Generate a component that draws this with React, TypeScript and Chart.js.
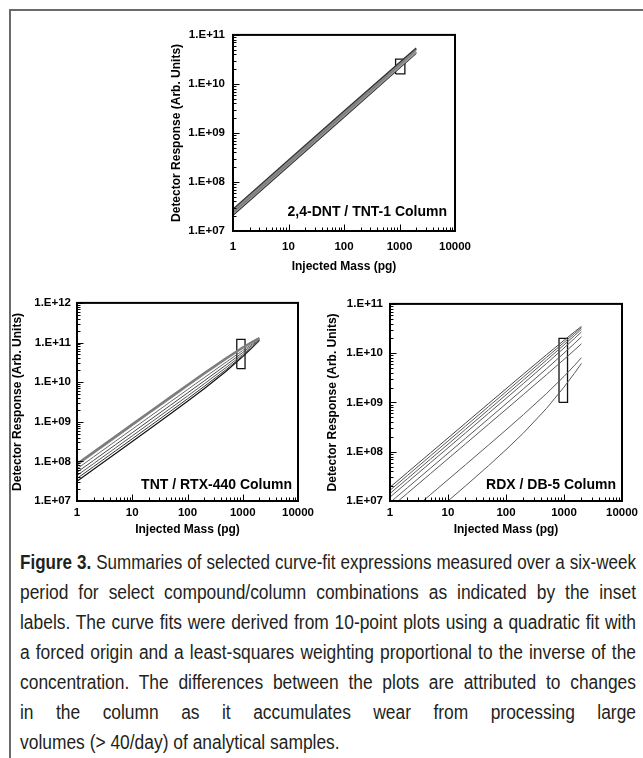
import { useEffect, useRef } from 'react';
import { Chart, registerables } from 'chart.js';

Chart.register(...registerables);

// ---------- shared axis data ----------
const massTickValues = [1, 10, 100, 1000, 10000];
const massTickLabels = ['1', '10', '100', '1000', '10000'];
const massTitle = 'Injected Mass (pg)';
const responseTitle = 'Detector Response (Arb. Units)';

// ---------- 2,4-DNT / TNT-1 ----------
const dntMass = [1, 10, 100, 1000, 2000];
const dntCurve1 = [2.8e7, 2.8e8, 2.795e9, 2.75e10, 5.4e10];
const dntCurve2 = [2.6e7, 2.6e8, 2.6e9, 2.6e10, 5.2e10];
const dntCurve3 = [2.45e7, 2.45e8, 2.453e9, 2.48e10, 5.02e10];
const dntCurve4 = [2.3e7, 2.3e8, 2.297e9, 2.27e10, 4.48e10];
const dntCurve5 = [2.2e7, 2.2e8, 2.202e9, 2.22e10, 4.48e10];
const dntCurve6 = [2.1e7, 2.1e8, 2.1e9, 2.1e10, 4.2e10];
const dntTickValues = [1e7, 1e8, 1e9, 1e10, 1e11];
const dntTickLabels = ['1.E+07', '1.E+08', '1.E+09', '1.E+10', '1.E+11'];
const dntBoxMass = [850, 1250];
const dntBoxResponse = [1.6e10, 3.2e10];
const dntLabel = '2,4-DNT / TNT-1 Column';

// ---------- TNT / RTX-440 ----------
const tntMass = [1, 2, 5, 10, 20, 50, 100, 200, 500, 1000, 1500, 2000];
const tntCurve1 = [8.7e7, 1.74e8, 4.35e8, 8.69e8, 1.736e9, 4.32e9, 8.59e9, 1.696e10, 4.075e10, 7.6e10, 1.0575e11, 1.3e11];
const tntCurve2 = [8.2e7, 1.64e8, 4.1e8, 8.19e8, 1.636e9, 4.08e9, 8.11e9, 1.604e10, 3.875e10, 7.3e10, 1.0275e11, 1.28e11];
const tntCurve3 = [6.5e7, 1.3e8, 3.25e8, 6.5e8, 1.3e9, 3.245e9, 6.48e9, 1.292e10, 3.2e10, 6.3e10, 9.3e10, 1.22e11];
const tntCurve4 = [5.3e7, 1.06e8, 2.65e8, 5.3e8, 1.061e9, 2.657e9, 5.33e9, 1.072e10, 2.725e10, 5.6e10, 8.625e10, 1.18e11];
const tntCurve5 = [4.4e7, 8.8e7, 2.2e8, 4.41e8, 8.82e8, 2.215e9, 4.46e9, 9.04e9, 2.35e10, 5.0e10, 7.95e10, 1.12e11];
const tntCurve6 = [3.7e7, 7.4e7, 1.85e8, 3.71e8, 7.44e8, 1.873e9, 3.79e9, 7.76e9, 2.075e10, 4.6e10, 7.575e10, 1.1e11];
const tntCurve7 = [3.16e7, 6.32e7, 1.58e8, 3.17e8, 6.37e8, 1.611e9, 3.28e9, 6.82e9, 1.89e10, 4.4e10, 7.53e10, 1.13e11];
const tntTickValues = [1e7, 1e8, 1e9, 1e10, 1e11, 1e12];
const tntTickLabels = ['1.E+07', '1.E+08', '1.E+09', '1.E+10', '1.E+11', '1.E+12'];
const tntBoxMass = [780, 1100];
const tntBoxResponse = [2.2e10, 1.2e11];
const tntLabel = 'TNT / RTX-440 Column';

// ---------- RDX / DB-5 ----------
const rdxMass = [1, 2, 5, 10, 20, 50, 100, 200, 500, 1000, 1500, 2000];
const rdxCurve1 = [1.9e7, 3.8e7, 9.5e7, 1.899e8, 3.797e8, 9.48e8, 1.89e9, 3.77e9, 9.31e9, 1.825e10, 2.68e10, 3.5e10];
const rdxCurve2 = [1.65e7, 3.3e7, 8.25e7, 1.65e8, 3.3e8, 8.25e8, 1.65e9, 3.3e9, 8.25e9, 1.65e10, 2.475e10, 3.3e10];
const rdxCurve3 = [1.42e7, 2.84e7, 7.1e7, 1.42e8, 2.842e8, 7.11e8, 1.425e9, 2.861e9, 7.23e9, 1.4725e10, 2.248e10, 3.05e10];
const rdxCurve4 = [1.2e7, 2.4e7, 6.0e7, 1.2e8, 2.403e8, 6.02e8, 1.2075e9, 2.43e9, 6.19e9, 1.275e10, 1.969e10, 2.7e10];
const rdxCurve5 = [9.3e6, 1.86e7, 4.65e7, 9.31e7, 1.863e8, 4.668e8, 9.37e8, 1.889e9, 4.83e9, 1.0025e10, 1.558e10, 2.15e10];
const rdxCurve6 = [7.2e6, 1.44e7, 3.6e7, 7.2e7, 1.441e8, 3.607e8, 7.23e8, 1.451e9, 3.67e9, 7.475e9, 1.142e10, 1.55e10];
const rdxCurve7 = [2.7e6, 5.4e6, 1.352e7, 2.707e7, 5.43e7, 1.367e8, 2.768e8, 5.67e8, 1.519e9, 3.377e9, 5.57e9, 8.1e9];
const rdxCurve8 = [9.9e5, 1.984e6, 4.98e6, 1.0e7, 2.02e7, 5.21e7, 1.1e8, 2.4e8, 7.59e8, 2.045e9, 3.86e9, 6.2e9];
const rdxTickValues = [1e7, 1e8, 1e9, 1e10, 1e11];
const rdxTickLabels = ['1.E+07', '1.E+08', '1.E+09', '1.E+10', '1.E+11'];
const rdxBoxMass = [820, 1150];
const rdxBoxResponse = [1e9, 2e10];
const rdxLabel = 'RDX / DB-5 Column';

// ---------- caption ----------
const captionLead = 'Figure 3.';
const captionLines = [
  ' Summaries of selected curve-fit expressions measured over a six-week',
  'period for select compound/column combinations as indicated by the inset',
  'labels. The curve fits were derived from 10-point plots using a quadratic fit with',
  'a forced origin and a least-squares weighting proportional to the inverse of the',
  'concentration. The differences between the plots are attributed to changes',
  'in the column as it accumulates wear from processing large',
  'volumes (> 40/day) of analytical samples.',
];

const FONT = '"Liberation Sans", Arial, Helvetica, sans-serif';
const CAPTION_FONT_SIZE = 20;
const CAPTION_WIDTH = 616;
const CAPTION_MAX_SCALE = 0.87;

const framePlugin = {
  id: 'frameTicks',
  afterDatasetsDraw(chart: any) {
    const { ctx, chartArea: a, scales } = chart;
    const x = scales.x;
    const y = scales.y;
    ctx.save();
    ctx.strokeStyle = '#000';
    ctx.lineWidth = 1;
    ctx.beginPath();
    const x0 = Math.round(Math.log10(x.min));
    const x1 = Math.round(Math.log10(x.max));
    for (let d = x0; d <= x1; d++) {
      for (let m = 1; m <= 9; m++) {
        const v = m * Math.pow(10, d);
        if (v > x.max * 1.0001) break;
        const px = Math.round(x.getPixelForValue(v)) + 0.5;
        const len = m === 1 ? 6.5 : 3.5;
        ctx.moveTo(px, a.bottom);
        ctx.lineTo(px, a.bottom - len);
      }
    }
    const y0 = Math.round(Math.log10(y.min));
    const y1 = Math.round(Math.log10(y.max));
    for (let d = y0; d <= y1; d++) {
      for (let m = 1; m <= 9; m++) {
        const v = m * Math.pow(10, d);
        if (v > y.max * 1.0001) break;
        const py = Math.round(y.getPixelForValue(v)) + 0.5;
        const len = m === 1 ? 6.5 : 3.5;
        ctx.moveTo(a.left, py);
        ctx.lineTo(a.left + len, py);
      }
    }
    ctx.stroke();
    ctx.lineWidth = 2;
    ctx.strokeRect(a.left, a.top, a.right - a.left, a.bottom - a.top);
    ctx.restore();
  },
};

const insetPlugin = {
  id: 'insetLabel',
  afterDatasetsDraw(chart: any, _args: any, opts: any) {
    const { ctx, chartArea: a } = chart;
    ctx.save();
    ctx.font = `bold 14px ${FONT}`;
    ctx.fillStyle = '#000';
    ctx.textAlign = 'right';
    ctx.textBaseline = 'middle';
    ctx.fillText(opts.text, a.right - opts.dx, a.bottom - opts.dy);
    ctx.restore();
  },
};

type Geom = {
  left: number; top: number; width: number; height: number;
  padTop: number; padRight: number; yWidth: number; xHeight: number;
  xTickPad: number; xTitlePad: number; yTickPad: number; yTitlePad: number;
  insetDx: number; insetDy: number;
};

type PanelSpec = {
  mass: number[];
  curves: number[][];
  colors: string[];
  widths: number[];
  yMin: number; yMax: number;
  yTicks: number[]; yLabels: string[];
  boxMass: number[]; boxResp: number[];
  inset: string;
  geom: Geom;
};

function buildConfig(p: PanelSpec): any {
  const g = p.geom;
  const datasets: any[] = p.curves.map((c, i) => ({
    data: p.mass.map((m, j) => ({ x: m, y: c[j] })),
    borderColor: p.colors[i],
    borderWidth: p.widths[i],
    pointRadius: 0,
    tension: 0,
    fill: false,
  }));
  datasets.push({
    data: [
      { x: p.boxMass[0], y: p.boxResp[0] },
      { x: p.boxMass[1], y: p.boxResp[0] },
      { x: p.boxMass[1], y: p.boxResp[1] },
      { x: p.boxMass[0], y: p.boxResp[1] },
      { x: p.boxMass[0], y: p.boxResp[0] },
    ],
    borderColor: '#111',
    borderWidth: 1.3,
    pointRadius: 0,
    tension: 0,
    fill: false,
  });
  return {
    type: 'line',
    data: { datasets },
    options: {
      responsive: false,
      animation: false,
      events: [],
      layout: { padding: { left: 0, top: g.padTop, right: g.padRight, bottom: 0 } },
      plugins: {
        legend: { display: false },
        tooltip: { enabled: false },
        insetLabel: { text: p.inset, dx: g.insetDx, dy: g.insetDy },
      },
      scales: {
        x: {
          type: 'logarithmic',
          position: 'bottom',
          min: 1,
          max: 10000,
          grid: { display: false, drawTicks: false },
          border: { display: false },
          afterBuildTicks: (s: any) => { s.ticks = massTickValues.map((v) => ({ value: v })); },
          afterFit: (s: any) => { s.height = g.xHeight; },
          ticks: {
            autoSkip: false, maxRotation: 0, minRotation: 0,
            padding: g.xTickPad, color: '#000',
            font: { family: FONT, size: 11.5, weight: 'bold' },
            callback: (_v: any, i: number) => massTickLabels[i],
          },
          title: {
            display: true, text: massTitle, color: '#000',
            font: { family: FONT, size: 12, weight: 'bold' },
            padding: { top: 0, bottom: g.xTitlePad },
          },
        },
        y: {
          type: 'logarithmic',
          position: 'left',
          min: p.yMin,
          max: p.yMax,
          grid: { display: false, drawTicks: false },
          border: { display: false },
          afterBuildTicks: (s: any) => { s.ticks = p.yTicks.map((v) => ({ value: v })); },
          afterFit: (s: any) => { s.width = g.yWidth; },
          ticks: {
            autoSkip: false,
            padding: g.yTickPad, color: '#000',
            font: { family: FONT, size: 11.5, weight: 'bold' },
            callback: (_v: any, i: number) => p.yLabels[i],
          },
          title: {
            display: true, text: responseTitle, color: '#000',
            font: { family: FONT, size: 12, weight: 'bold' },
            padding: { top: g.yTitlePad, bottom: 0 },
          },
        },
      },
    },
    plugins: [framePlugin, insetPlugin],
  };
}

const panels: PanelSpec[] = [
  {
    mass: dntMass,
    curves: [dntCurve1, dntCurve2, dntCurve3, dntCurve4, dntCurve5, dntCurve6],
    colors: ['#333', '#8a8a8a', '#777', '#999', '#666', '#222'],
    widths: [1.3, 2, 2, 2, 1.6, 1.3],
    yMin: 1e7, yMax: 1e11,
    yTicks: dntTickValues, yLabels: dntTickLabels,
    boxMass: dntBoxMass, boxResp: dntBoxResponse,
    inset: dntLabel,
    geom: {
      left: 150, top: 20, width: 330, height: 265,
      padTop: 12, padRight: 20, yWidth: 83, xHeight: 54,
      xTickPad: 9, xTitlePad: 10.8, yTickPad: 8, yTitlePad: 19.8,
      insetDx: 8, insetDy: 19,
    },
  },
  {
    mass: tntMass,
    curves: [tntCurve1, tntCurve2, tntCurve3, tntCurve4, tntCurve5, tntCurve6, tntCurve7],
    colors: ['#7c7c7c', '#8a8a8a', '#666', '#444', '#555', '#333', '#111'],
    widths: [2, 2, 1, 1, 1, 1, 1.2],
    yMin: 1e7, yMax: 1e12,
    yTicks: tntTickValues, yLabels: tntTickLabels,
    boxMass: tntBoxMass, boxResp: tntBoxResponse,
    inset: tntLabel,
    geom: {
      left: 0, top: 290, width: 320, height: 255,
      padTop: 9, padRight: 22, yWidth: 77, xHeight: 44,
      xTickPad: 5, xTitlePad: 7.8, yTickPad: 6, yTitlePad: 10.8,
      insetDx: 6, insetDy: 16,
    },
  },
  {
    mass: rdxMass,
    curves: [rdxCurve1, rdxCurve2, rdxCurve3, rdxCurve4, rdxCurve5, rdxCurve6, rdxCurve7, rdxCurve8],
    colors: ['#444', '#5a5a5a', '#5a5a5a', '#5a5a5a', '#5a5a5a', '#5a5a5a', '#5a5a5a', '#5a5a5a'],
    widths: [1, 1, 1, 1, 1, 1, 1, 1],
    yMin: 1e7, yMax: 1e11,
    yTicks: rdxTickValues, yLabels: rdxTickLabels,
    boxMass: rdxBoxMass, boxResp: rdxBoxResponse,
    inset: rdxLabel,
    geom: {
      left: 320, top: 290, width: 323, height: 255,
      padTop: 9, padRight: 20, yWidth: 70, xHeight: 44,
      xTickPad: 5, xTitlePad: 7.8, yTickPad: 7, yTitlePad: 5.8,
      insetDx: 6, insetDy: 16,
    },
  },
];

function Panel({ spec }: { spec: PanelSpec }) {
  const ref = useRef<HTMLCanvasElement | null>(null);
  useEffect(() => {
    if (!ref.current) return;
    const chart = new Chart(ref.current, buildConfig(spec));
    return () => chart.destroy();
  }, [spec]);
  const g = spec.geom;
  return (
    <div style={{ position: 'absolute', left: g.left, top: g.top, width: g.width, height: g.height }}>
      <canvas ref={ref} width={g.width} height={g.height} style={{ display: 'block' }} />
    </div>
  );
}

function lineScales(): number[] {
  const c = document.createElement('canvas').getContext('2d');
  return captionLines.map((line, i) => {
    if (!c) return 0.8;
    let w = 0;
    if (i === 0) {
      c.font = `bold ${CAPTION_FONT_SIZE}px ${FONT}`;
      w += c.measureText(captionLead).width;
    }
    c.font = `${CAPTION_FONT_SIZE}px ${FONT}`;
    w += c.measureText(line).width;
    return Math.min(CAPTION_MAX_SCALE, (CAPTION_WIDTH - 3) / w);
  });
}

export default function App() {
  const last = captionLines.length - 1;
  const scales = lineScales();
  return (
    <div style={{ position: 'absolute', left: 0, top: 0, width: 643, height: 758, overflow: 'hidden', background: '#fff' }}>
      <div style={{ position: 'absolute', left: 9, top: 9, width: 800, height: 900, borderLeft: '2px solid #6a6a6a', borderTop: '2px solid #6a6a6a' }} />
      {panels.map((p, i) => <Panel key={i} spec={p} />)}
      <div
        style={{
          position: 'absolute', left: 20, top: 547, width: CAPTION_WIDTH,
          fontFamily: FONT, fontSize: CAPTION_FONT_SIZE, lineHeight: '30px', color: '#231f20',
        }}
      >
        {captionLines.map((line, i) => (
          <div key={i} style={{ height: 30, width: CAPTION_WIDTH, overflow: 'visible' }}>
            <div
              style={{
                width: CAPTION_WIDTH / scales[i],
                transform: `scaleX(${scales[i]})`,
                transformOrigin: '0 0',
                textAlign: i < last ? 'justify' : 'left',
                textAlignLast: i < last ? 'justify' : 'left',
                whiteSpace: 'nowrap',
              } as any}
            >
              {i === 0 ? <span style={{ fontWeight: 700 }}>{captionLead}</span> : null}
              {line}
            </div>
          </div>
        ))}
      </div>
    </div>
  );
}
